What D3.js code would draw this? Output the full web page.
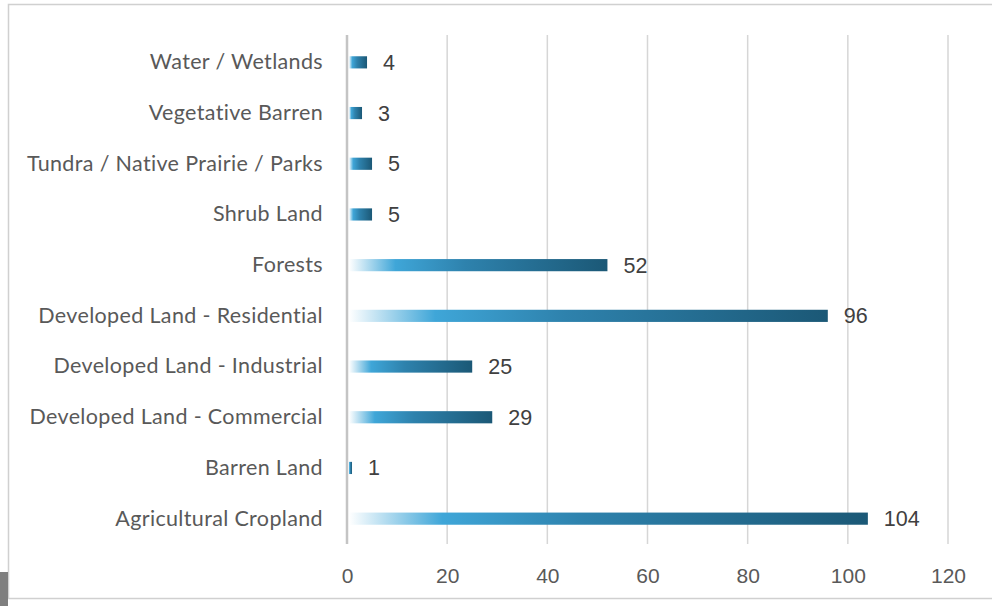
<!DOCTYPE html>
<html><head><meta charset="utf-8">
<script src="https://cdn.jsdelivr.net/npm/d3@7"></script>
<style>body{margin:0;background:#fff;overflow:hidden}</style>
</head><body>
<svg id="c" width="992" height="606"></svg>
<script>
const categories = ["Water / Wetlands","Vegetative Barren","Tundra / Native Prairie / Parks","Shrub Land","Forests","Developed Land - Residential","Developed Land - Industrial","Developed Land - Commercial","Barren Land","Agricultural Cropland"];
const values = [4,3,5,5,52,96,25,29,1,104];
const xTicks = [0,20,40,60,80,100,120];

const svg = d3.select("#c");
// frame
svg.append("rect").attr("x",8.5).attr("y",4.5).attr("width",990).attr("height",594).attr("fill","none").attr("stroke","#d0d0d0").attr("stroke-width",1.5);
svg.append("rect").attr("x",0).attr("y",572).attr("width",8).attr("height",34).attr("fill","#7f7f7f");

const x = d3.scaleLinear().domain([0,120]).range([347,948]);
const y = d3.scaleBand().domain(categories).range([37,544]).paddingInner(0.76).paddingOuter(0.38);

const defs = svg.append("defs");
const g = defs.append("linearGradient").attr("id","bg").attr("x1","0").attr("x2","1").attr("y1","0").attr("y2","0");
g.append("stop").attr("offset","0%").attr("stop-color","#ffffff");
g.append("stop").attr("offset","18%").attr("stop-color","#3fa6d8");
g.append("stop").attr("offset","45%").attr("stop-color","#2e82ad");
g.append("stop").attr("offset","100%").attr("stop-color","#1b5876");

// gridlines
svg.append("g").selectAll("line").data(xTicks.slice(1)).join("line")
  .attr("x1",d=>x(d)).attr("x2",d=>x(d)).attr("y1",35).attr("y2",544)
  .attr("stroke","#d6d6d6").attr("stroke-width",1.5);
svg.append("line").attr("x1",x(0)).attr("x2",x(0)).attr("y1",35).attr("y2",544).attr("stroke","#c4c4c4").attr("stroke-width",2.5);

// bars
svg.append("g").selectAll("rect").data(values).join("rect")
  .attr("x",x(0)+2).attr("y",(d,i)=>y(categories[i])).attr("height",y.bandwidth())
  .attr("width",d=>Math.max(1.5,x(d)-x(0)-2)).attr("fill","url(#bg)");

// value labels
svg.append("g").selectAll("text").data(values).join("text")
  .attr("x",d=>x(d)+16).attr("y",(d,i)=>y(categories[i])+y.bandwidth()/2).attr("dy","0.35em")
  .attr("font-family","Liberation Sans, Arial, sans-serif").attr("font-size",21.5).attr("fill","#404040")
  .text(d=>d);

// category labels
const yAxis = d3.axisLeft(y).tickSize(0).tickPadding(0);
const ya = svg.append("g").attr("transform","translate(323,0)").call(yAxis);
ya.select(".domain").remove();
ya.selectAll("text").attr("font-family","Lato, sans-serif").attr("font-size",21.5).attr("letter-spacing","0.35px").attr("fill","#595959");

// x axis
const xAxis = d3.axisBottom(x).tickValues(xTicks).tickSize(0).tickPadding(0);
const xa = svg.append("g").attr("transform","translate(0,568)").call(xAxis);
xa.select(".domain").remove();
xa.selectAll("text").attr("font-family","Liberation Sans, Arial, sans-serif").attr("font-size",21).attr("fill","#595959");
</script>
</body></html>
